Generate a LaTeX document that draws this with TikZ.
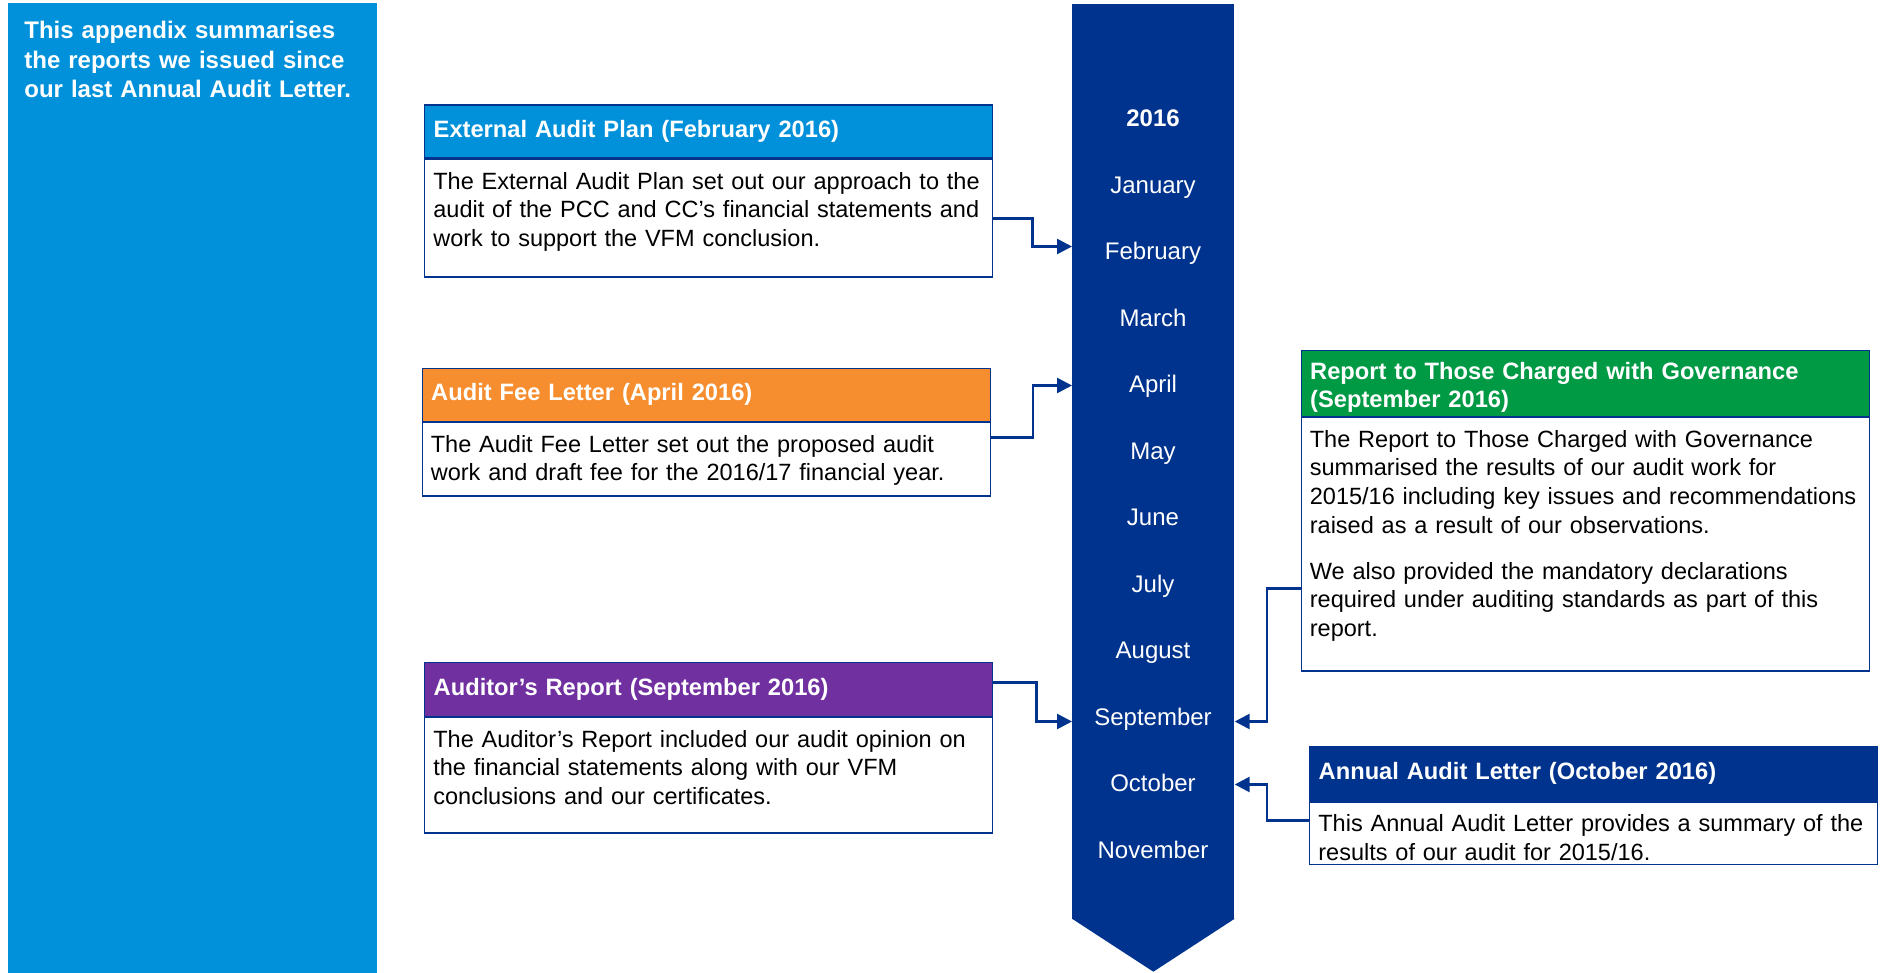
\documentclass[tikz,border=0pt]{standalone}
\usepackage{xcolor}
\usepackage{fontspec}
\setmainfont{Liberation Sans}
\usetikzlibrary{arrows.meta}

\definecolor{kpmgblue}{RGB}{0,51,141}
\definecolor{kpmglight}{RGB}{0,145,218}
\definecolor{kpmgorange}{RGB}{246,141,46}
\definecolor{kpmgpurple}{RGB}{112,48,160}
\definecolor{kpmggreen}{RGB}{0,154,68}

\newcommand{\slidefont}{\fontsize{13.66pt}{16.27pt}\selectfont}
\newcommand{\headfont}{\fontsize{13.48pt}{16.27pt}\selectfont}
\newcommand{\cardfont}{\fontsize{13.38pt}{16.27pt}\selectfont}

\tikzset{
	cardhead/.style={draw=kpmgblue, line width=0.8pt, fill=#1, text=white, font=\headfont\bfseries, anchor=north west, align=left, text width=11cm, inner xsep=0.18cm, inner ysep=0pt, minimum height=1.06cm},
	cardbody/.style={draw=kpmgblue, line width=0.8pt, fill=white, anchor=north west, minimum width=11.36cm, inner sep=0pt},
	cardtext/.style={anchor=north west, font=\cardfont, align=left, text width=11.4cm, inner xsep=0.18cm, inner ysep=0.26cm},
	month/.style={text=white, font=\slidefont, text height=0.73em, text depth=0.21em},
	link/.style={draw=kpmgblue, line width=1.5pt, -{Triangle[length=0.3cm,width=0.3cm]}}
}

\begin{document}
\begin{tikzpicture}
	\useasboundingbox (0,0) rectangle (37.66,-19.46);
	\node[fill=kpmglight, anchor=north west, minimum width=7.38cm, minimum height=19.40cm, inner sep=0pt] (panel) at (0.16,-0.06) {};
	\node[anchor=north west, inner sep=0pt, text=white, font=\fontsize{13.66pt}{16.73pt}\selectfont\bfseries, align=left, text width=6.9cm] (intro) at ([xshift=0.32cm,yshift=-0.36cm]panel.north west) {This appendix summarises\\the reports we issued since\\our last Annual Audit Letter.};

	\node[fill=kpmgblue, anchor=north west, minimum width=3.24cm, minimum height=18.30cm, inner sep=0pt] (band) at (21.44,-0.08) {};
	\fill[kpmgblue] ([yshift=0.02cm]band.south west) -- ([yshift=0.02cm]band.south east) -- ([yshift=-1.04cm]band.south) -- cycle;

	\node[month, font=\slidefont\bfseries] (year) at (23.06,-2.44) {2016};
	\node[month] (jan) at (23.06,-3.77) {January};
	\node[month] (feb) at (23.06,-5.10) {February};
	\node[month] (mar) at (23.06,-6.43) {March};
	\node[month] (apr) at (23.06,-7.76) {April};
	\node[month] (may) at (23.06,-9.09) {May};
	\node[month] (jun) at (23.06,-10.42) {June};
	\node[month] (jul) at (23.06,-11.75) {July};
	\node[month] (aug) at (23.06,-13.08) {August};
	\node[month] (sep) at (23.06,-14.41) {September};
	\node[month] (oct) at (23.06,-15.74) {October};
	\node[month] (nov) at (23.06,-17.07) {November};

	\node[cardhead=kpmglight] (plan-head) at (8.48,-2.09) {External Audit Plan (February 2016)};
	\node[cardbody, minimum height=2.35cm] (plan-body) at (plan-head.south west) {};
	\node[cardtext] (plan-text) at (plan-body.north west) {The External Audit Plan set out our approach to the\\audit of the PCC and CC's financial statements and\\work to support the VFM conclusion.};

	\node[cardhead=kpmgorange] (fee-head) at (8.43,-7.35) {Audit Fee Letter (April 2016)};
	\node[cardbody, minimum height=1.47cm] (fee-body) at (fee-head.south west) {};
	\node[cardtext] (fee-text) at (fee-body.north west) {The Audit Fee Letter set out the proposed audit\\work and draft fee for the 2016/17 financial year.};

	\node[cardhead=kpmgpurple, minimum height=1.08cm] (opinion-head) at (8.48,-13.23) {Auditor's Report (September 2016)};
	\node[cardbody, minimum height=2.31cm] (opinion-body) at (opinion-head.south west) {};
	\node[cardtext] (opinion-text) at (opinion-body.north west) {The Auditor's Report included our audit opinion on\\the financial statements along with our VFM\\conclusions and our certificates.};

	\node[cardhead=kpmggreen, minimum height=1.32cm, text height=1.43em] (tcwg-head) at (26.01,-6.99) {Report to Those Charged with Governance\\(September 2016)};
	\node[cardbody, minimum height=5.07cm] (tcwg-body) at (tcwg-head.south west) {};
	\node[cardtext] (tcwg-text) at (tcwg-body.north west) {The Report to Those Charged with Governance\\summarised the results of our audit work for\\2015/16 including key issues and recommendations\\raised as a result of our observations.\\[10pt]We also provided the mandatory declarations\\required under auditing standards as part of this\\report.};

	\node[cardhead=kpmgblue, minimum height=1.08cm] (letter-head) at (26.18,-14.92) {Annual Audit Letter (October 2016)};
	\node[cardbody, minimum height=1.25cm] (letter-body) at (letter-head.south west) {};
	\node[cardtext] (letter-text) at (letter-body.north west) {This Annual Audit Letter provides a summary of the\\results of our audit for 2015/16.};

	\draw[link] (plan-body.east) -- ++(0.78,0) |- ([yshift=0.17cm]band.west |- feb);
	\draw[link] ([yshift=0.44cm]fee-body.east) -- ++(0.84,0) |- ([yshift=0.05cm]band.west |- apr);
	\draw[link] ([yshift=0.14cm]opinion-head.east) -- ++(0.86,0) |- ([yshift=-0.02cm]band.west |- sep);
	\draw[link] ([yshift=-0.88cm]tcwg-body.west) -- ++(-0.67,0) |- ([yshift=-0.02cm]band.east |- sep);
	\draw[link] ([yshift=0.26cm]letter-body.west) -- ++(-0.84,0) |- ([yshift=0.05cm]band.east |- oct);
\end{tikzpicture}
\end{document}
